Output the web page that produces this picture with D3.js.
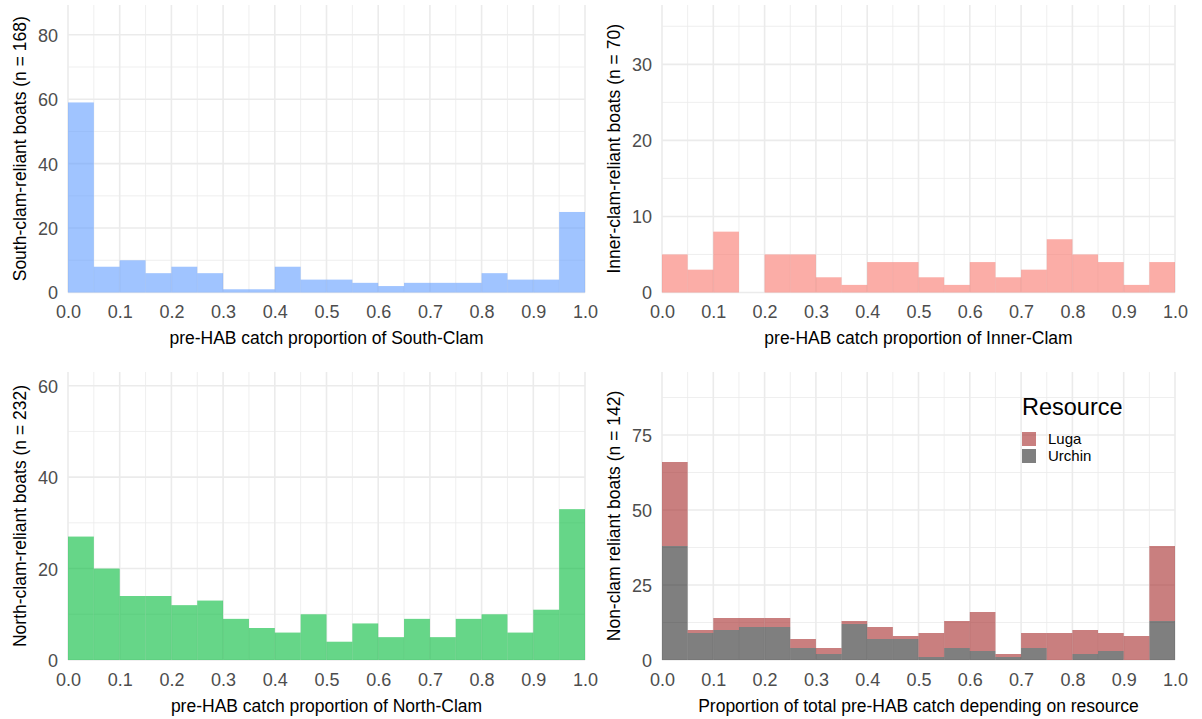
<!DOCTYPE html>
<html>
<head>
<meta charset="utf-8">
<script src="https://cdn.jsdelivr.net/npm/d3@7"></script>
<style>
  html, body { margin: 0; padding: 0; background: #fff; }
  svg { display: block; font-family: "Liberation Sans", Arial, sans-serif; }
</style>
</head>
<body>
<svg id="chart" width="1202" height="719"></svg>
<script>
// ---------- DATA ----------
const binEdges = [0, 0.05, 0.1, 0.15, 0.2, 0.25, 0.3, 0.35, 0.4, 0.45, 0.5,
                  0.55, 0.6, 0.65, 0.7, 0.75, 0.8, 0.85, 0.9, 0.95, 1.0];
const southClam = [59, 8, 10, 6, 8, 6, 1, 1, 8, 4, 4, 3, 2, 3, 3, 3, 6, 4, 4, 25];
const innerClam = [5, 3, 8, 0, 5, 5, 2, 1, 4, 4, 2, 1, 4, 2, 3, 7, 5, 4, 1, 4];
const northClam = [27, 20, 14, 14, 12, 13, 9, 7, 6, 10, 4, 8, 5, 9, 5, 9, 10, 6, 11, 33];
const nonClamUrchin = [38, 9, 10, 11, 11, 4, 2, 12, 7, 7, 1, 4, 3, 1, 4, 0, 2, 3, 0, 13];
const nonClamLuga   = [28, 1, 4, 3, 3, 3, 2, 1, 4, 1, 8, 9, 13, 1, 5, 9, 8, 6, 8, 25];
const resources = ["Luga", "Urchin"];

const xTickValues = [0, 0.1, 0.2, 0.3, 0.4, 0.5, 0.6, 0.7, 0.8, 0.9, 1.0];
const xTickLabels = ["0.0", "0.1", "0.2", "0.3", "0.4", "0.5", "0.6", "0.7", "0.8", "0.9", "1.0"];
const xMinorValues = [0.05, 0.15, 0.25, 0.35, 0.45, 0.55, 0.65, 0.75, 0.85, 0.95];

const yTicksSouth = [0, 20, 40, 60, 80];
const yTicksInner = [0, 10, 20, 30];
const yTicksNorth = [0, 20, 40, 60];
const yTicksNon   = [0, 25, 50, 75];

// ---------- LAYOUT / STYLE ----------
const svg = d3.select("#chart");
const gridColor = "#ebebeb";
const tickColor = "#4d4d4d";
const titleSize = 17.5;

const panels = [
  { left: 68,  right: 585,  top: 5,   bottom: 292.5, yMax: 89.25, yTicks: yTicksSouth,
    series: [{ values: southClam, color: "#619CFF", opacity: 0.6 }],
    xTitle: "pre-HAB catch proportion of South-Clam", yTitle: "South-clam-reliant boats (n = 168)" },
  { left: 662, right: 1175, top: 5,   bottom: 292.5, yMax: 37.8, yTicks: yTicksInner,
    series: [{ values: innerClam, color: "#F8766D", opacity: 0.6 }],
    xTitle: "pre-HAB catch proportion of Inner-Clam", yTitle: "Inner-clam-reliant boats (n = 70)" },
  { left: 68,  right: 585,  top: 372, bottom: 660, yMax: 63, yTicks: yTicksNorth,
    series: [{ values: northClam, color: "#00BA38", opacity: 0.6 }],
    xTitle: "pre-HAB catch proportion of North-Clam", yTitle: "North-clam-reliant boats (n = 232)" },
  { left: 662, right: 1175, top: 372, bottom: 660, yMax: 96, yTicks: yTicksNon,
    stacked: true,
    series: [{ name: "Urchin", values: nonClamUrchin, color: "#000000", opacity: 0.5 },
             { name: "Luga",   values: nonClamLuga,   color: "#A52A2A", opacity: 0.6 }],
    xTitle: "Proportion of total pre-HAB catch depending on resource", yTitle: "Non-clam reliant boats (n = 142)",
    legend: true }
];

panels.forEach(p => {
  const x = d3.scaleLinear().domain([0, 1]).range([p.left, p.right]);
  const y = d3.scaleLinear().domain([0, p.yMax]).range([p.bottom, p.top]);
  const g = svg.append("g");

  // minor y grid (midpoints between major ticks)
  const step = p.yTicks[1] - p.yTicks[0];
  const yMinor = [];
  for (let i = 0; i < p.yTicks.length; i++) {
    const v = p.yTicks[i] + step / 2;
    if (v < p.yMax) yMinor.push(v);
  }
  g.append("g").selectAll("line").data(yMinor).join("line")
    .attr("x1", p.left).attr("x2", p.right)
    .attr("y1", d => y(d)).attr("y2", d => y(d))
    .attr("stroke", gridColor).attr("stroke-width", 0.8);
  g.append("g").selectAll("line").data(xMinorValues).join("line")
    .attr("x1", d => x(d)).attr("x2", d => x(d))
    .attr("y1", p.top).attr("y2", p.bottom)
    .attr("stroke", gridColor).attr("stroke-width", 0.8);
  // major grid
  g.append("g").selectAll("line").data(p.yTicks).join("line")
    .attr("x1", p.left).attr("x2", p.right)
    .attr("y1", d => y(d)).attr("y2", d => y(d))
    .attr("stroke", gridColor).attr("stroke-width", 1.6);
  g.append("g").selectAll("line").data(xTickValues).join("line")
    .attr("x1", d => x(d)).attr("x2", d => x(d))
    .attr("y1", p.top).attr("y2", p.bottom)
    .attr("stroke", gridColor).attr("stroke-width", 1.6);

  // bars
  const base = new Array(binEdges.length - 1).fill(0);
  p.series.forEach(s => {
    const rows = s.values.map((v, i) => ({ x0: binEdges[i], x1: binEdges[i + 1], y0: base[i], y1: base[i] + v }));
    if (p.stacked) rows.forEach((r, i) => { base[i] = r.y1; });
    g.append("g").selectAll("rect").data(rows.filter(r => r.y1 > r.y0)).join("rect")
      .attr("x", d => x(d.x0))
      .attr("width", d => x(d.x1) - x(d.x0))
      .attr("y", d => y(d.y1))
      .attr("height", d => y(d.y0) - y(d.y1))
      .attr("fill", s.color)
      .attr("fill-opacity", s.opacity);
  });

  // axes (text only)
  const xAxis = d3.axisBottom(x).tickValues(xTickValues)
    .tickFormat((d, i) => xTickLabels[i]).tickSize(0).tickPadding(0);
  const xg = g.append("g").attr("transform", `translate(0,${p.bottom + 12})`).call(xAxis);
  xg.select(".domain").remove();
  xg.selectAll("text").attr("fill", tickColor).attr("font-size", 18)
    .attr("font-family", "Liberation Sans, Arial, sans-serif").attr("dy", "0.75em");

  const yAxis = d3.axisLeft(y).tickValues(p.yTicks).tickSize(0).tickPadding(0);
  const yg = g.append("g").attr("transform", `translate(${p.left - 10},0)`).call(yAxis);
  yg.select(".domain").remove();
  yg.selectAll("text").attr("fill", tickColor).attr("font-size", 18)
    .attr("font-family", "Liberation Sans, Arial, sans-serif").attr("dy", "0.36em");

  // titles
  g.append("text")
    .attr("x", (p.left + p.right) / 2).attr("y", p.bottom + 51.5)
    .attr("text-anchor", "middle").attr("font-size", titleSize).attr("fill", "#000")
    .text(p.xTitle);
  const yc = (p.top + p.bottom) / 2;
  const tx = p.left - 42;
  g.append("text")
    .attr("transform", `translate(${tx},${yc}) rotate(-90)`)
    .attr("text-anchor", "middle").attr("font-size", titleSize).attr("fill", "#000")
    .text(p.yTitle);

  // legend
  if (p.legend) {
    const lg = g.append("g").attr("transform", "translate(1022,0)");
    lg.append("text").attr("x", 0).attr("y", 415).attr("font-size", 23.5).attr("fill", "#000").text("Resource");
    const keyColor = { Luga: p.series[1], Urchin: p.series[0] };
    resources.forEach((r, i) => {
      const s = keyColor[r];
      const cy = 439 + i * 17;
      lg.append("rect").attr("x", 0).attr("y", cy - 7).attr("width", 14).attr("height", 14)
        .attr("fill", s.color).attr("fill-opacity", s.opacity);
      lg.append("text").attr("x", 26).attr("y", cy).attr("dy", "0.36em")
        .attr("font-size", 15).attr("fill", "#000").text(r);
    });
  }
});
</script>
</body>
</html>
